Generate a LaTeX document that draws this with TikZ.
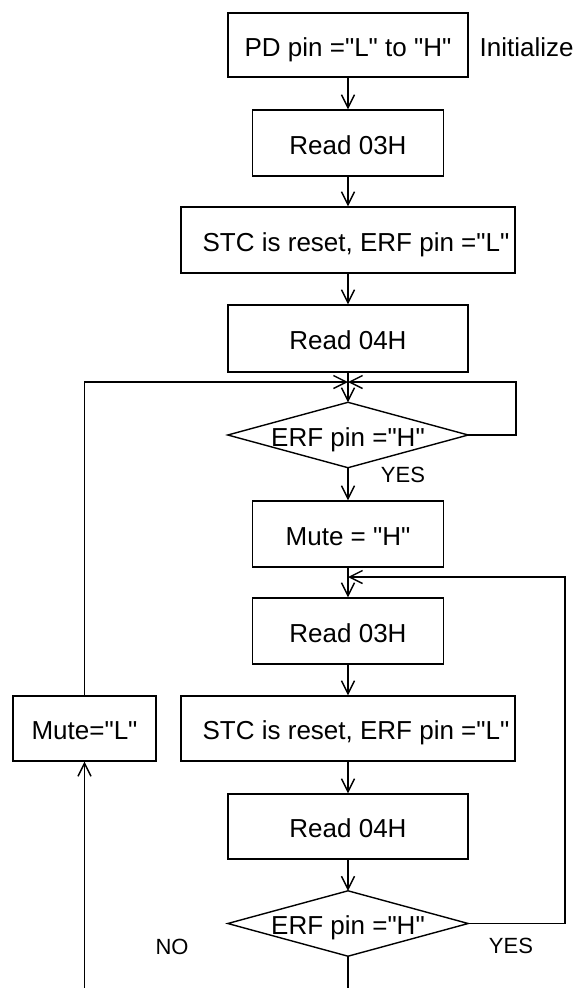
\documentclass[tikz,border=0pt]{standalone}
\usepackage{fontspec}
\setmainfont{Liberation Sans}[Ligatures=TeXOff]
\usetikzlibrary{arrows.meta}
\begin{document}
\begin{tikzpicture}[x=1pt,y=-1pt,line width=1.4pt,
  txt/.style={inner sep=0pt,font=\fontsize{26}{31}\selectfont,text height=22pt,text depth=0pt},
  box/.style={txt,draw,rectangle},
  dec/.style={txt,rectangle,minimum width=239pt,minimum height=64pt},
  flow/.style={-{Straight Barb[length=13pt,width=13pt]}},
  lab/.style={inner sep=0pt,font=\fontsize{22}{26}\selectfont}]
\useasboundingbox (0,0) rectangle (585,988);
% boxes
\node[box,minimum width=240pt,minimum height=64pt] (b1) at (348,45) {PD pin ="L" to "H"};
\node[txt,anchor=west] (init) at (479,45) {Initialize};
\node[box,minimum width=191pt,minimum height=66pt] (b2) at (348,143) {Read 03H};
\node[box,minimum width=334pt,minimum height=66pt] (b3) at (348,240) {\hspace*{16pt}STC is reset, ERF pin ="L"};
\node[box,minimum width=240pt,minimum height=67pt] (b4) at (348,338.5) {Read 04H};
\node[dec] (d1) at (348,435) {ERF pin ="H"};
\draw (d1.north) -- (d1.east) -- (d1.south) -- (d1.west) -- cycle;
\node[box,minimum width=191pt,minimum height=66pt] (b5) at (348,534) {Mute = "H"};
\node[box,minimum width=191pt,minimum height=66pt] (b6) at (348,631) {Read 03H};
\node[box,minimum width=334pt,minimum height=65pt] (b7) at (348,728.5) {\hspace*{16pt}STC is reset, ERF pin ="L"};
\node[box,minimum width=143pt,minimum height=65pt] (m) at (84.5,728.5) {Mute="L"};
\node[box,minimum width=240pt,minimum height=65pt] (b8) at (348,826.5) {Read 04H};
\node[dec] (d2) at (348,923.5) {ERF pin ="H"};
\draw (d2.north) -- (d2.east) -- (d2.south) -- (d2.west) -- cycle;
% labels
\node[lab] (yes1) at (403,475) {YES};
\node[lab] (yes2) at (511,946) {YES};
\node[lab] (no) at (172,947) {NO};
% coordinates
\coordinate (j1) at (348,382);
\coordinate (j2) at (348,577);
\coordinate (r1) at (516,382);
\coordinate (r2) at (565,577);
\coordinate (bot1) at (348,988);
\coordinate (bot2) at (m.south |- bot1);
% connectors
\draw[flow] (b1) -- (b2);
\draw[flow] (b2) -- (b3);
\draw[flow] (b3) -- (b4);
\draw[flow] (b4.south) -- (d1.north);
\draw[flow] (d1.east) -| (r1) -- (j1);
\draw[flow] (m.north) |- (j1);
\draw[flow] (d1.south) -- (b5.north);
\draw[flow] (b5) -- (b6);
\draw[flow] (d2.east) -| (r2) -- (j2);
\draw[flow] (b6) -- (b7);
\draw[flow] (b7) -- (b8);
\draw[flow] (b8.south) -- (d2.north);
\draw (d2.south) -- (bot1);
\draw[flow] (bot2) -- (m.south);
\end{tikzpicture}
\end{document}
